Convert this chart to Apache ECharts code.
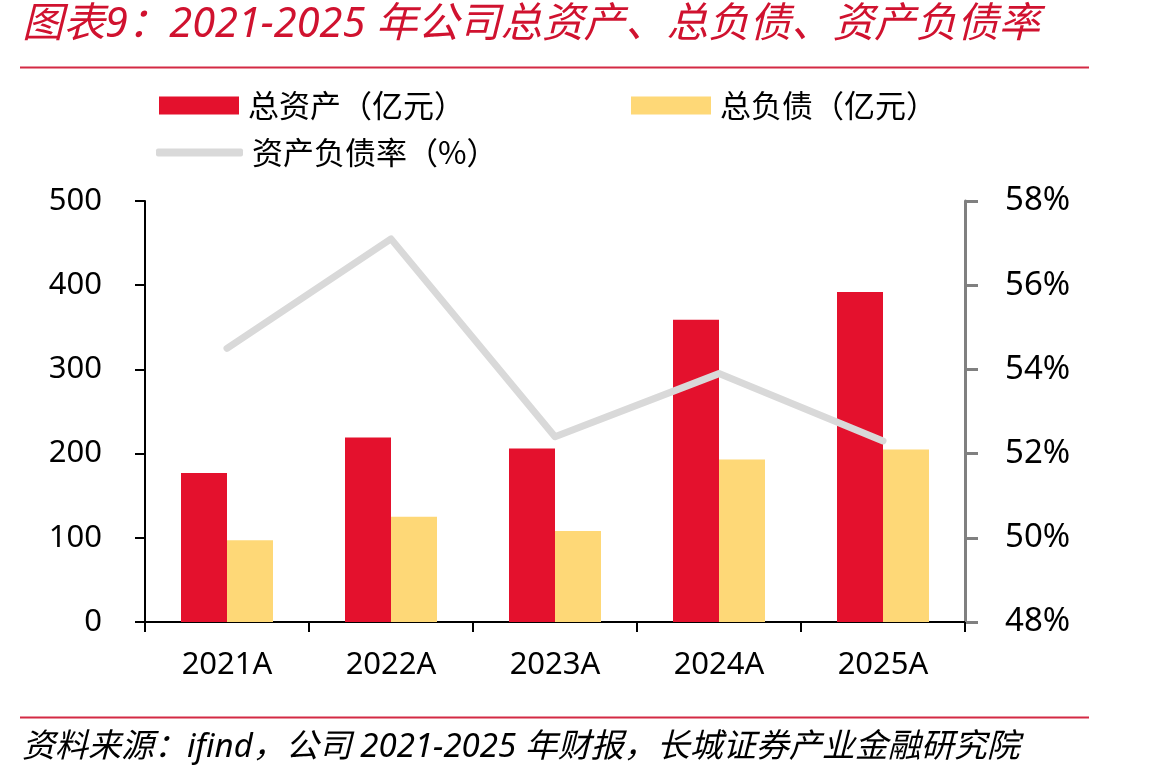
<!DOCTYPE html>
<html>
<head>
<meta charset="utf-8">
<script src="https://cdn.jsdelivr.net/npm/echarts@6/dist/echarts.min.js"></script>
<style>
  html, body { margin: 0; padding: 0; background: #fff; }
  #chart { width: 1149px; height: 782px; }
</style>
</head>
<body>
<div id="chart"></div>
<script>
// data
var categories = ['2021A', '2022A', '2023A', '2024A', '2025A'];
var totalAssets = [177, 219, 206, 359, 392];       // 总资产（亿元）
var totalLiabilities = [97, 125, 108, 193, 205];    // 总负债（亿元）
var debtRatio = [54.5, 57.1, 52.4, 53.9, 52.3];     // 资产负债率（%）

var RED = '#e4112d';
var YELLOW = '#fed877';
var GREY = '#d9d9d9';
var FONT = '"Noto Sans", "Noto Sans CJK SC", sans-serif';
var CJK = '"Noto Sans CJK SC", sans-serif';

var chart = echarts.init(document.getElementById('chart'));

var legendBase = {
  orient: 'horizontal',
  padding: 0,
  itemWidth: 80,
  itemHeight: 18,
  textStyle: { fontSize: 31, color: '#000', fontFamily: CJK, padding: [0, 0, 0, 4] }
};

var option = {
  backgroundColor: '#fff',
  animation: false,
  title: [{
    text: '图表9：2021-2025 年公司总资产、总负债、资产负债率',
    left: 22,
    top: 4,
    padding: 0,
    textStyle: { fontSize: 41.5, fontStyle: 'italic', fontWeight: 'normal', color: '#d0122f', fontFamily: FONT }
  }, {
    text: '资料来源：ifind，公司 2021-2025 年财报，长城证券产业金融研究院',
    left: 22,
    top: 731,
    padding: 0,
    textStyle: { fontSize: 33, fontStyle: 'italic', fontWeight: 'normal', color: '#000', fontFamily: FONT }
  }],
  graphic: [
    { type: 'line', shape: { x1: 20, y1: 67.5, x2: 1089, y2: 67.5 }, style: { stroke: '#d42a44', lineWidth: 2 } },
    { type: 'line', shape: { x1: 20, y1: 717.5, x2: 1089, y2: 717.5 }, style: { stroke: '#d42a44', lineWidth: 2 } }
  ],
  legend: [
    Object.assign({}, legendBase, { data: ['总资产（亿元）'], left: 159, top: 90, icon: 'rect' }),
    Object.assign({}, legendBase, { data: ['总负债（亿元）'], left: 631, top: 90, icon: 'rect' }),
    Object.assign({}, legendBase, { data: ['资产负债率（%）'], left: 156, top: 137, icon: 'roundRect', itemWidth: 87, itemHeight: 8 })
  ],
  grid: { left: 145, right: 184, top: 201, bottom: 160, containLabel: false },
  xAxis: {
    type: 'category',
    data: categories,
    axisLine: { lineStyle: { color: '#000', width: 2 } },
    axisTick: { show: true, length: 10, lineStyle: { color: '#000', width: 2 } },
    axisLabel: { fontSize: 31, color: '#000', fontFamily: FONT, margin: 28 }
  },
  yAxis: [{
    type: 'value',
    min: 0,
    max: 500,
    interval: 100,
    splitLine: { show: false },
    axisLine: { show: true, lineStyle: { color: '#000', width: 2 } },
    axisTick: { show: true, length: 10, lineStyle: { color: '#000', width: 2 } },
    axisLabel: { fontSize: 31, color: '#000', fontFamily: FONT, margin: 43 }
  }, {
    type: 'value',
    min: 48,
    max: 58,
    interval: 2,
    position: 'right',
    splitLine: { show: false },
    axisLine: { show: true, lineStyle: { color: '#808080', width: 3 } },
    axisTick: { show: true, length: 13, lineStyle: { color: '#808080', width: 3 } },
    axisLabel: { fontSize: 33, color: '#000', fontFamily: FONT, margin: 40, formatter: '{value}%' }
  }],
  series: [{
    name: '总资产（亿元）',
    type: 'bar',
    data: totalAssets,
    barWidth: 46,
    barGap: '0%',
    itemStyle: { color: RED }
  }, {
    name: '总负债（亿元）',
    type: 'bar',
    data: totalLiabilities,
    barWidth: 46,
    barGap: '0%',
    itemStyle: { color: YELLOW }
  }, {
    name: '资产负债率（%）',
    type: 'line',
    yAxisIndex: 1,
    data: debtRatio,
    showSymbol: false,
    symbol: 'none',
    itemStyle: { color: GREY },
    lineStyle: { color: GREY, width: 7, cap: 'round', join: 'round' },
    z: 5
  }]
};

chart.setOption(option);
</script>
</body>
</html>
